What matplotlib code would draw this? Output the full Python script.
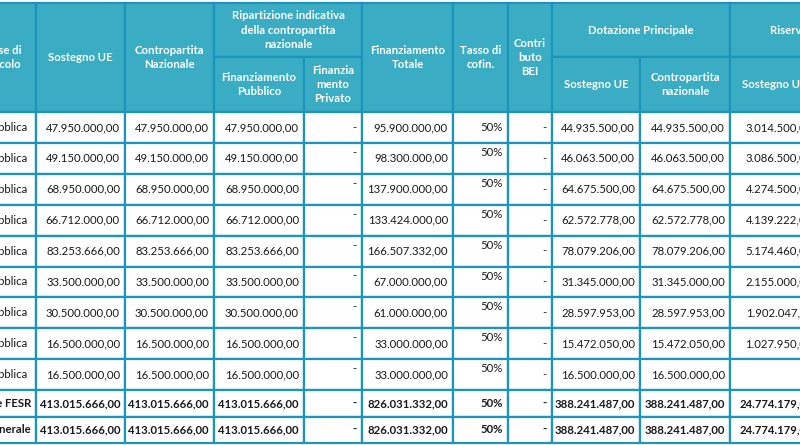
import matplotlib.pyplot as plt
from matplotlib.patches import Rectangle

plt.rcParams['font.family'] = ['Lato', 'DejaVu Sans']

base_calcolo = ["Pubblica"] * 9 + ["Totale FESR", "Totale generale"]
sostegno_ue = [47950000, 49150000, 68950000, 66712000, 83253666,
               33500000, 30500000, 16500000, 16500000, 413015666, 413015666]
contropartita = list(sostegno_ue)
fin_pubblico = list(sostegno_ue)
fin_privato = ["-"] * 11
fin_totale = [95900000, 98300000, 137900000, 133424000, 166507332,
              67000000, 61000000, 33000000, 33000000, 826031332, 826031332]
tasso_cofin = ["50%"] * 11
contributo_bei = ["-"] * 11
dot_sostegno = [44935500, 46063500, 64675500, 62572778, 78079206,
                31345000, 28597953, 15472050, 16500000, 388241487, 388241487]
dot_contropartita = list(dot_sostegno)
ris_sostegno = [3014500, 3086500, 4274500, 4139222, 5174460,
                2155000, 1902047, 1027950, None, 24774179, 24774179]
ris_contropartita = list(ris_sostegno)


def fmt(v):
    if v is None:
        return ""
    if isinstance(v, str):
        return v
    s = f"{v:,.2f}"
    return s.replace(",", "X").replace(".", ",").replace("X", ".")


columns = [base_calcolo, sostegno_ue, contropartita, fin_pubblico, fin_privato,
           fin_totale, tasso_cofin, contributo_bei, dot_sostegno,
           dot_contropartita, ris_sostegno, ris_contropartita]

# ---- layout (pixels) ----
col_x = [-30, 36, 125, 214, 304, 362, 453, 508, 552, 640, 730, 818, 906]
head_y = [3, 57, 112]
row_y = [112]
for i in range(11):
    row_y.append(row_y[-1] + (30.9 if i < 9 else 26.5))

border = '#1C95BC'
head_bg = '#3AADC4'
txt = '#1a1a1a'

fig = plt.figure(figsize=(8, 4.45), dpi=100)
ax = fig.add_axes([0, 0, 1, 1])
ax.set_xlim(0, 800)
ax.set_ylim(445, 0)
ax.axis('off')

# header cells: (first col, last col, top row, bottom row, text)
header = [
    (0, 0, 0, 1, "Base di\ncalcolo"),
    (1, 1, 0, 1, "Sostegno UE"),
    (2, 2, 0, 1, "Contropartita\nNazionale"),
    (3, 4, 0, 0, "Ripartizione indicativa\ndella contropartita\nnazionale"),
    (3, 3, 1, 1, "Finanziamento\nPubblico"),
    (4, 4, 1, 1, "Finanzia\nmento\nPrivato"),
    (5, 5, 0, 1, "Finanziamento\nTotale"),
    (6, 6, 0, 1, "Tasso di\ncofin."),
    (7, 7, 0, 1, "Contri\nbuto\nBEI"),
    (8, 9, 0, 0, "Dotazione Principale"),
    (8, 8, 1, 1, "Sostegno UE"),
    (9, 9, 1, 1, "Contropartita\nnazionale"),
    (10, 11, 0, 0, "Riserva di efficacia"),
    (10, 10, 1, 1, "Sostegno UE"),
    (11, 11, 1, 1, "Contropartita\nnazionale"),
]
for c0, c1, r0, r1, label in header:
    x0, x1 = col_x[c0], col_x[c1 + 1]
    y0, y1 = head_y[r0], head_y[r1 + 1]
    ax.add_patch(Rectangle((x0, y0), x1 - x0, y1 - y0, facecolor=head_bg,
                           edgecolor=border, linewidth=1.6))
    ax.text((x0 + x1) / 2, (y0 + y1) / 2, label, ha='center', va='center',
            color='white', fontsize=8.2, fontweight='bold', linespacing=1.35)

# body cells
for r in range(11):
    y0, y1 = row_y[r], row_y[r + 1]
    bold = r >= 9
    for c, values in enumerate(columns):
        x0, x1 = col_x[c], col_x[c + 1]
        ax.add_patch(Rectangle((x0, y0), x1 - x0, y1 - y0, facecolor='white',
                               edgecolor=border, linewidth=1.6))
        label = fmt(values[r])
        if c == 0:
            xt = 27 if r < 9 else 31
        else:
            xt = x1 - 5
        # the "-" of private funding and the "50%" sit high in rows 2-9
        if c in (4, 6) and 1 <= r <= 8:
            yt, va = y0 + 4, 'top'
        else:
            yt, va = (y0 + y1) / 2, 'center'
        ax.text(xt, yt, label, ha='right', va=va, color=txt, fontsize=8.2,
                fontweight='bold' if bold else 'normal')

fig.savefig('out.png', dpi=100)
